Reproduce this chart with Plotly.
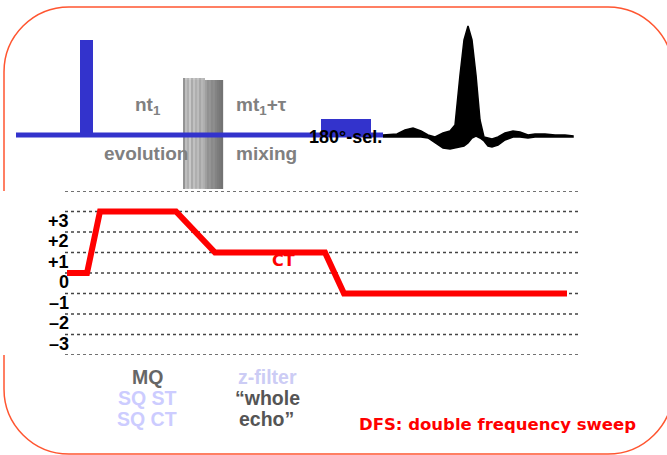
import plotly.graph_objects as go

# ---------------- data ----------------
# coherence levels (dotted reference lines) and their tick labels
levels = [4, 3, 2, 1, 0, -1, -2, -3, -4]
level_labels = {3: "+3", 2: "+2", 1: "+1", 0: "0", -1: "–1", -2: "–2", -3: "–3"}

# coherence transfer pathway: time positions and coherence orders
path_t = [67, 87, 100, 176, 215, 325, 344, 567]
path_p = [0, 0, 3, 3, 1, 1, -1, -1]

# pulse sequence (time, amplitude-in-pixels above the baseline)
baseline_t = [16, 383]
pulse_hard = {"t0": 80, "t1": 93, "amp": 95}
pulse_sel = {"t0": 321, "t1": 371, "amp": 16}

# DFS sweep bundle: thin sweep lines (left part) and dense block (right part)
dfs_thin_t = [184, 186, 188, 190, 192, 194, 196, 198, 200, 202, 204]
dfs_thin_grey = [40, 140, 110, 160, 100, 145, 110, 135, 95, 125, 110]
dfs_dense_t = [206, 208, 210, 212, 214, 216, 218, 220, 222]
dfs_dense_grey = [160, 145, 150, 138, 142, 132, 125, 120, 115]

# echo envelope
echo_t = [383, 397, 405, 413, 421, 428, 435, 443, 450, 455, 460, 464, 468, 472, 476, 480, 484, 488, 492, 498, 505, 513, 520, 528, 535, 545, 555, 565, 573]
echo_up = [135, 134, 130, 128, 131, 135, 137, 133, 131, 125, 75, 40, 26, 40, 75, 120, 137, 138, 139, 137, 133, 131, 132, 135, 134, 134, 135, 135, 136]
echo_lo = [137, 137, 137, 137, 137, 138, 143, 148, 149, 148, 147, 146, 143, 138, 136, 138, 141, 146, 147, 145, 140, 137, 137, 138, 137, 137, 137, 137, 137]

BASE_Y = 135
BLUE = "#3333CC"
ARIAL = "Liberation Sans, Arial, sans-serif"
COMIC = "DejaVu Sans"

fig = go.Figure()

# dotted coherence lines
for L in levels:
    fig.add_trace(go.Scatter(x=[65, 578], y=[L, L], xaxis="x", yaxis="y2", mode="lines",
                             line=dict(color="#444444", width=1.3, dash="dot"),
                             hoverinfo="skip", showlegend=False))

# DFS bundle
fig.add_trace(go.Scatter(x=[185, 205, 205, 185, 185], y=[80, 80, 188, 188, 80], mode="lines",
                         fill="toself", fillcolor="#f0f0f0", line=dict(width=0),
                         hoverinfo="skip", showlegend=False))
for t, g in zip(dfs_thin_t, dfs_thin_grey):
    fig.add_trace(go.Scatter(x=[t, t], y=[78, 189], mode="lines",
                             line=dict(color=f"rgb({g},{g},{g})", width=1.0),
                             hoverinfo="skip", showlegend=False))
for t, g in zip(dfs_dense_t, dfs_dense_grey):
    fig.add_trace(go.Scatter(x=[t, t], y=[80, 189], mode="lines",
                             line=dict(color=f"rgb({g},{g},{g})", width=2.3),
                             hoverinfo="skip", showlegend=False))

# baseline
fig.add_trace(go.Scatter(x=baseline_t, y=[BASE_Y, BASE_Y], mode="lines",
                         line=dict(color=BLUE, width=5), hoverinfo="skip", showlegend=False))

# pulses
for p in (pulse_hard, pulse_sel):
    top = BASE_Y - p["amp"]
    fig.add_trace(go.Scatter(x=[p["t0"], p["t1"], p["t1"], p["t0"], p["t0"]],
                             y=[BASE_Y + 2, BASE_Y + 2, top, top, BASE_Y + 2],
                             mode="lines", fill="toself", fillcolor=BLUE,
                             line=dict(color=BLUE, width=0), hoverinfo="skip", showlegend=False))

# echo
fig.add_trace(go.Scatter(x=echo_t + echo_t[::-1], y=echo_up + echo_lo[::-1],
                         mode="lines", fill="toself", fillcolor="black",
                         line=dict(color="black", width=1.5), hoverinfo="skip", showlegend=False))

# coherence pathway
fig.add_trace(go.Scatter(x=path_t, y=path_p, xaxis="x", yaxis="y2", mode="lines",
                         line=dict(color="#FF0000", width=6), hoverinfo="skip", showlegend=False))

ann = []
for L, lab in level_labels.items():
    ann.append(dict(x=71, y=L - 0.45, xref="x", yref="y2", text=lab, showarrow=False,
                    xanchor="right", yanchor="middle",
                    font=dict(family=ARIAL, size=18, color="black", weight="bold")))

def txt(x, y, s, color, size=19, family=ARIAL, xanchor="center"):
    ann.append(dict(x=x, y=y, xref="x", yref="y", text=s, showarrow=False, xanchor=xanchor,
                    yanchor="middle", font=dict(family=family, size=size, color=color, weight="bold")))

GREY = "#808080"
txt(148, 106, "nt<sub>1</sub>", GREY)
txt(261, 106, "mt<sub>1</sub>+τ", GREY)
txt(146, 153, "evolution", GREY)
txt(266, 153, "mixing", GREY)
txt(345, 137, "180°-sel.", "black", size=18)
txt(283, 260, "CT", "#FF0000", size=16, family=COMIC)
txt(147, 377, "MQ", "#666666", size=19.5)
txt(147, 398, "SQ ST", "#CCCCFF", size=19.5)
txt(147, 419, "SQ CT", "#CCCCFF", size=19.5)
txt(267, 377, "z-filter", "#CCCCF5", size=19.5)
txt(267, 398, "“whole", "#555555", size=19.5)
txt(266, 419, "echo”", "#555555", size=19.5)
txt(497, 424, "DFS: double frequency sweep", "#FF0000", size=16.5, family=COMIC)

# rounded frame
x0, x1, y0, y1, R = 4, 673, 7, 454, 65
k = 0.5523 * R
frame = (f"M {x0+R},{y0} L {x1-R},{y0} C {x1-R+k},{y0} {x1},{y0+R-k} {x1},{y0+R} "
         f"L {x1},{y1-R} C {x1},{y1-R+k} {x1-R+k},{y1} {x1-R},{y1} "
         f"L {x0+R},{y1} C {x0+R-k},{y1} {x0},{y1-R+k} {x0},{y1-R} "
         f"L {x0},{y0+R} C {x0},{y0+R-k} {x0+R-k},{y0} {x0+R},{y0} Z")

fig.update_layout(
    width=667, height=455, margin=dict(l=0, r=0, t=0, b=0),
    paper_bgcolor="white", plot_bgcolor="white", showlegend=False,
    xaxis=dict(range=[0, 667], visible=False, fixedrange=True),
    yaxis=dict(range=[455, 0], visible=False, domain=[0, 1], fixedrange=True),
    yaxis2=dict(range=[-4, 4], visible=False, domain=[1 - 355 / 455, 1 - 191 / 455], anchor="x",
                fixedrange=True),
    annotations=ann,
    shapes=[dict(type="path", path=frame, xref="x", yref="y",
                 line=dict(color="#FF5530", width=1.5), layer="below")],
)

fig.write_html("out.html")
